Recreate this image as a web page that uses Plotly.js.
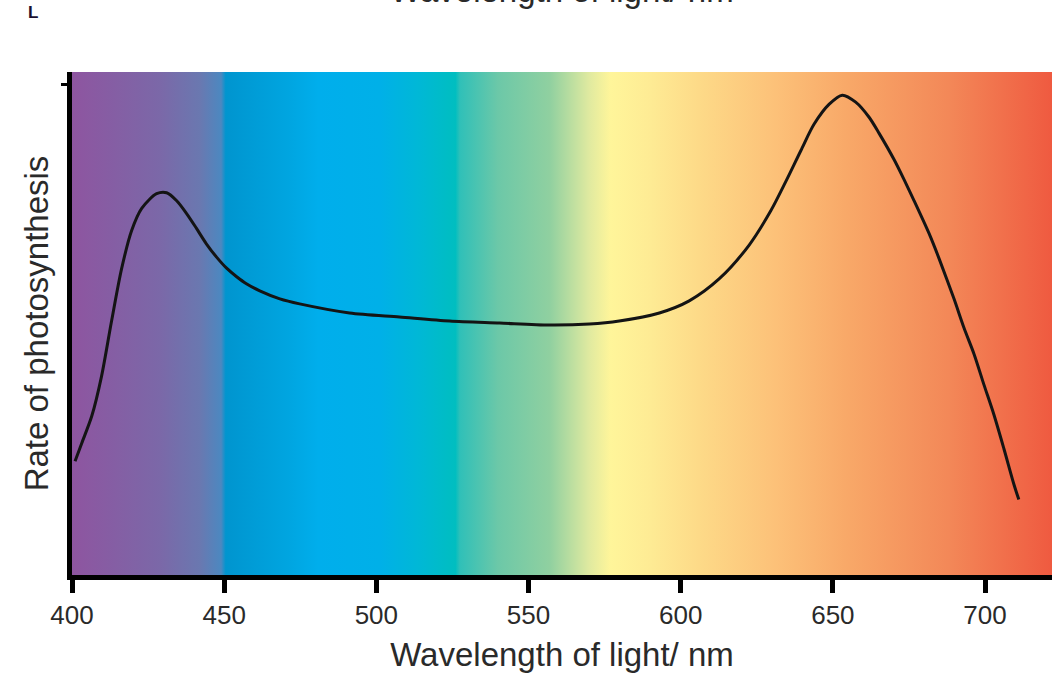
<!DOCTYPE html>
<html>
<head>
<meta charset="utf-8">
<script src="https://cdn.plot.ly/plotly-3.0.1.min.js"></script>
<style>html,body{margin:0;padding:0;background:#fff;}#chart{width:1054px;height:674px;}</style>
</head>
<body>
<div id="chart"></div>
<script>
// Action spectrum: rate of photosynthesis vs wavelength
const wavelength = [401.0,403.2,406.5,409.7,413.0,416.3,419.6,422.9,427.8,431.1,434.4,437.6,440.9,444.2,447.5,450.8,454.1,457.3,461.7,468.3,474.8,491.2,507.6,524.1,540.5,556.9,570.0,579.8,593.0,602.8,612.7,622.5,629.6,634.6,639.5,643.8,648.8,653.1,657.5,661.9,665.2,670.1,673.4,676.7,681.6,684.9,689.8,693.1,696.4,699.6,702.9,706.2,709.5,711.1];
const rate = [22.6,26.2,31.6,39.5,50.5,60.9,68.5,72.9,75.8,76.0,74.4,71.9,68.9,65.8,63.2,61.0,59.3,57.9,56.5,54.9,53.9,52.1,51.3,50.5,50.1,49.7,49.9,50.5,52.1,54.5,58.9,65.6,72.4,78.3,84.4,89.6,93.6,95.4,94.0,91.0,87.8,82.6,78.6,74.4,67.9,62.9,54.9,49.1,43.9,37.9,31.9,25.1,18.0,15.0];

// Spectrum background colour stops
const bandWavelengths = [400,429,442,449,450.5,471,481,501,514,526,527.5,540,557,570,577,590,606,632,655,688,722];
const bandColors = ['#8E55A0','#7B68A8','#6A78B0','#4C88C0','#0095CF','#00A5E0','#00AEEC','#00B0E8','#00B8D6','#00BEC0','#30C0B8','#6CC8A8','#90D0A0','#E0EAA0','#FFF59A','#FEEB94','#FDDA88','#FCC078','#F8A868','#F38858','#EF5A40'];

const xTicks = [400,450,500,550,600,650,700];
const xRange = [400,722];
const yRange = [0,100];

const xMin = bandWavelengths[0], xMax = bandWavelengths[bandWavelengths.length-1];
const colorscale = bandWavelengths.map((w,i)=>[(w-xMin)/(xMax-xMin), bandColors[i]]);

const bg = {
  type:'scatter', mode:'lines', hoverinfo:'skip', showlegend:false,
  x:[xMin,xMax,xMax,xMin,xMin], y:[yRange[0],yRange[0],yRange[1],yRange[1],yRange[0]],
  line:{width:0}, fill:'toself',
  fillgradient:{type:'horizontal', colorscale:colorscale}
};
const curve = {
  type:'scatter', mode:'lines', x:wavelength, y:rate, showlegend:false,
  line:{color:'#141414', width:3, shape:'spline', smoothing:0.8}
};

const FONT = 'Liberation Sans, Arial, sans-serif';
const layout = {
  width:1054, height:674,
  margin:{l:72, r:2, t:72, b:99},
  paper_bgcolor:'#fff', plot_bgcolor:'#fff',
  font:{family:FONT, color:'#2a2a2a'},
  xaxis:{
    range:xRange, tickvals:xTicks, ticktext:xTicks.map(String),
    showgrid:false, zeroline:false, showline:true, linecolor:'#000', linewidth:5,
    ticks:'outside', ticklen:13, tickwidth:5, tickcolor:'#000',
    tickfont:{size:26, color:'#2a2a2a', family:FONT},
    title:{text:'Wavelength of light/ nm', font:{size:33, color:'#2a2a2a', family:FONT}, standoff:15}
  },
  yaxis:{
    range:yRange, showgrid:false, zeroline:false, showline:true, linecolor:'#000', linewidth:5,
    tickvals:[97.6], ticks:'outside', ticklen:6, tickwidth:3, tickcolor:'#000', showticklabels:false,
    title:{text:'Rate of photosynthesis', font:{size:33, color:'#2a2a2a', family:FONT}, standoff:4}
  },
  annotations:[{
    xref:'paper', yref:'paper', x:0.5, y:1, yanchor:'bottom', yshift:61,
    text:'Wavelength of light/ nm', showarrow:false, font:{size:33, color:'#2a2a2a', family:FONT}
  },{
    xref:'paper', yref:'paper', x:-0.047, y:1, yanchor:'bottom', yshift:48,
    text:'<b>L</b>', showarrow:false, font:{size:17, color:'#1a1030', family:FONT}
  }]
};

Plotly.newPlot('chart',[bg,curve],layout,{displayModeBar:false, staticPlot:true});
</script>
</body>
</html>
